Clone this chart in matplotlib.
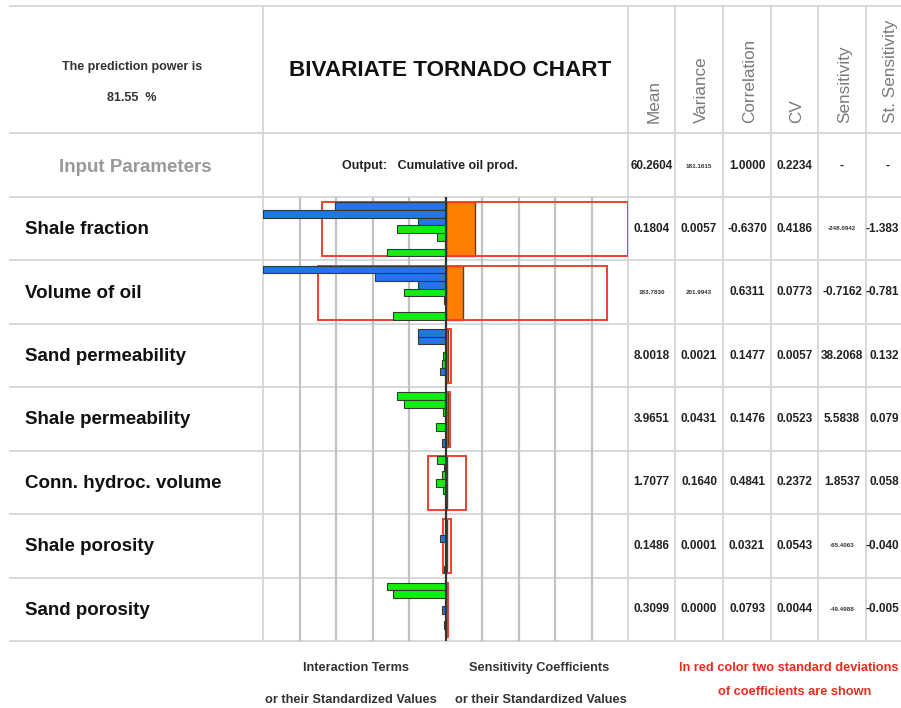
import matplotlib
matplotlib.use("Agg")
import matplotlib.pyplot as plt
from matplotlib.patches import Rectangle

W, H = 901, 708
plt.rcParams['font.family'] = ['Liberation Sans', 'DejaVu Sans']

# ---------------------------------------------------------------- data
parameters = ["Shale fraction", "Volume of oil", "Sand permeability",
              "Shale permeability", "Conn. hydroc. volume", "Shale porosity",
              "Sand porosity"]

# Standardized bivariate terms of each parameter with every parameter
# (same order as `parameters`, the diagonal is the quadratic term).
# Negative terms are drawn in blue, positive terms in green.
shale_fraction_terms = [-3.04, -5.00, -0.75, 1.32, 0.23, 0.00, 1.59]
volume_of_oil_terms = [-5.00, -1.92, -0.75, 1.15, 0.04, 0.00, 1.45]
sand_perm_terms = [-0.75, -0.75, 0.00, 0.07, 0.09, -0.14, 0.00]
shale_perm_terms = [1.32, 1.15, 0.07, 0.00, 0.25, 0.00, -0.09]
conn_volume_terms = [0.23, 0.04, 0.09, 0.25, 0.06, 0.00, 0.00]
shale_porosity_terms = [0.00, 0.00, -0.14, 0.00, 0.00, 0.00, 0.03]
sand_porosity_terms = [1.59, 1.45, 0.00, -0.09, 0.00, 0.03, 0.00]

# Standardized sensitivity coefficients and two standard deviations
sensitivity_std = [0.82, 0.47, 0.07, 0.055, 0.05, 0.04, 0.04]
two_std = [4.19, 3.96, 0.07, 0.055, 0.52, 0.10, 0.04]

column_headers = ["Mean", "Variance", "Correlation", "CV", "Sensitivity",
                  "St. Sensitivity"]
output_stats = ["60.2604", "181.1615", "1.0000", "0.2234", "-", "-"]
means = ["0.1804", "183.7830", "8.0018", "3.9651", "1.7077", "0.1486", "0.3099"]
variances = ["0.0057", "201.9943", "0.0021", "0.0431", "0.1640", "0.0001",
             "0.0000"]
correlations = ["-0.6370", "0.6311", "0.1477", "0.1476", "0.4841", "0.0321",
                "0.0793"]
cvs = ["0.4186", "0.0773", "0.0057", "0.0523", "0.2372", "0.0543", "0.0044"]
sensitivities = ["-248.0942", "-0.7162", "38.2068", "5.5838", "1.8537",
                 "-65.4063", "-49.4988"]
st_sensitivities = ["-1.383", "-0.781", "0.132", "0.079", "0.058",
                    "-0.040", "-0.005"]

prediction_power = 81.55
output_name = "Cumulative oil prod."

interaction_rows = [shale_fraction_terms, volume_of_oil_terms, sand_perm_terms,
                    shale_perm_terms, conn_volume_terms, shale_porosity_terms,
                    sand_porosity_terms]
table_columns = [means, variances, correlations, cvs, sensitivities]

# ---------------------------------------------------------------- layout
top, head_bottom, chart_top, chart_bottom = 6, 133, 197, 641
n_rows = len(parameters)
row_h = (chart_bottom - chart_top) / n_rows
left_edge, chart_left, chart_right = 10, 263, 628
col_edges = [628, 675, 723, 771, 818, 866, 914]
line_col = "#d6d6d6"

fig = plt.figure(figsize=(W / 100, H / 100), dpi=100)
bg = fig.add_axes([0, 0, 1, 1])
bg.set_xlim(0, W)
bg.set_ylim(H, 0)
bg.axis("off")

# table lines
h_lines = [top, head_bottom, chart_top] + [chart_top + (i + 1) * row_h
                                            for i in range(n_rows)]
for y in h_lines:
    bg.plot([left_edge, W], [y, y], color=line_col, lw=1.3, zorder=0)
for x in [chart_left] + col_edges[:-1]:
    bg.plot([x, x], [top, chart_bottom], color=line_col, lw=1.3, zorder=0)

# header texts
bg.text(132, 67, "The prediction power is", ha="center", va="center",
        fontsize=9, fontweight="bold", color="#333333")
bg.text(132, 98, f"{prediction_power:.2f}  %", ha="center", va="center",
        fontsize=9, fontweight="bold", color="#333333")
bg.text(450, 71, "BIVARIATE TORNADO CHART", ha="center", va="center",
        fontsize=16.2, fontweight="bold", color="#111111")
bg.text(135, 167, "Input Parameters", ha="center", va="center",
        fontsize=13.5, fontweight="bold", color="#999999")
bg.text(430, 166, f"Output:   {output_name}", ha="center", va="center",
        fontsize=9, fontweight="bold", color="#222222")

col_centers = [(a + b) / 2 for a, b in zip(col_edges[:-1], col_edges[1:])]
for cx, name in zip(col_centers, column_headers):
    bg.text(min(cx + 2.5, 891), 123, name, rotation=90, ha="center",
            va="bottom", fontsize=12.3, color="#7a7a7a")


def value_text(x, y, s, ha="center"):
    small = len(s) > 7
    bg.text(x, y, s, ha=ha, va="center",
            fontsize=4.5 if small else 8.5,
            fontweight="bold", color="#333333" if small else "#222222")


for cx, s in zip(col_centers[:5], output_stats[:5]):
    value_text(cx, 166, s)
value_text(888, 166, output_stats[5])

for r, name in enumerate(parameters):
    yc = chart_top + (r + 0.5) * row_h
    bg.text(25, yc + 1, name, ha="left", va="center", fontsize=13.5,
            fontweight="bold", color="#111111")
    for c, col in enumerate(table_columns):
        value_text(col_centers[c], yc, col[r])
    value_text(899, yc, st_sensitivities[r], ha="right")

# footer texts
foot = dict(ha="center", va="center", fontsize=9.2, fontweight="bold")
bg.text(356, 668, "Interaction Terms", color="#333333", **foot)
bg.text(351, 700, "or their Standardized Values", color="#333333", **foot)
bg.text(539, 668, "Sensitivity Coefficients", color="#333333", **foot)
bg.text(541, 700, "or their Standardized Values", color="#333333", **foot)
bg.text(789, 668, "In red color two standard deviations", color="#f02a1e",
        **foot)
bg.text(795, 692, "of coefficients are shown", color="#f02a1e", **foot)

# ---------------------------------------------------------------- tornado
ax = fig.add_axes([chart_left / W, 1 - chart_bottom / H,
                   (chart_right - chart_left) / W,
                   (chart_bottom - chart_top) / H])
ax.patch.set_alpha(0)
ax.set_xlim(-5, 5)
ax.set_ylim(n_rows, 0)
ax.axis("off")

for gx in range(-4, 5):
    if gx != 0:
        ax.axvline(gx, color="#c2c2c2", lw=1.6, zorder=1)
ax.axvline(0, color="#333333", lw=1.6, zorder=6)

pad, slot = 0.08, 0.122
blue, green, orange = "#1f78e6", "#10f010", "#ff8000"

for r, terms in enumerate(interaction_rows):
    for j, v in enumerate(terms):
        if v == 0:
            continue
        ax.barh(r + pad + (j + 0.5) * slot, -abs(v), height=slot, left=0,
                color=blue if v < 0 else green, edgecolor="#2f3b2f", lw=0.8,
                zorder=4)
    s, sd = sensitivity_std[r], two_std[r]
    ax.barh(r + pad + 3.5 * slot, s, height=7 * slot, left=0, color=orange,
            edgecolor="#6a3a12", lw=1.0, zorder=2)
    ax.add_patch(Rectangle((s - sd, r + pad), 2 * sd, 7 * slot, fill=False,
                           edgecolor="#f0402e", lw=1.4, zorder=3))

fig.savefig("out.png", dpi=100)
